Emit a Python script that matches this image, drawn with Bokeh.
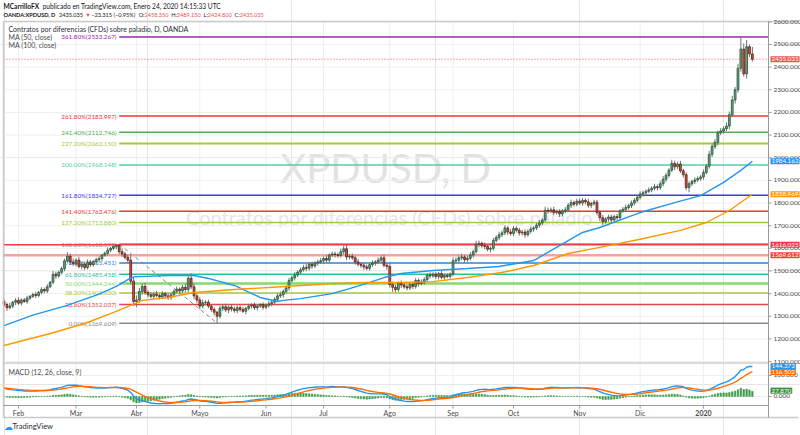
import numpy as np
import pandas as pd
from bokeh.plotting import figure
from bokeh.models import Range1d, Label, ColumnDataSource
from bokeh.core.properties import value
from bokeh.embed import file_html
from bokeh.resources import INLINE

# ---------------- data ----------------
closes = [
    1352, 1338, 1345, 1362, 1370, 1358, 1372, 1365, 1380, 1388,
    1396, 1392, 1405, 1418, 1412, 1430, 1450, 1486, 1478, 1494,
    1510, 1545, 1565, 1540, 1532, 1548, 1520, 1530, 1515, 1538,
    1528, 1542, 1550, 1555, 1570, 1578, 1592, 1600, 1608, 1612,
    1585, 1575, 1560, 1548, 1455, 1365, 1372, 1410, 1432, 1405,
    1395, 1388, 1398, 1392, 1385, 1400, 1390, 1382, 1395, 1410,
    1420, 1412, 1428, 1418, 1468, 1430, 1390, 1372, 1345, 1360,
    1362, 1345, 1330, 1318, 1300, 1335, 1342, 1328, 1340, 1332,
    1325, 1338, 1330, 1322, 1335, 1345, 1350, 1338, 1345, 1352,
    1340, 1348, 1355, 1362, 1375, 1390, 1395, 1410, 1425, 1458,
    1470, 1482, 1495, 1505, 1515, 1512, 1530, 1522, 1535, 1540,
    1545, 1555, 1548, 1570, 1575, 1572, 1568, 1585, 1598, 1562,
    1565, 1558, 1540, 1530, 1525, 1518, 1512, 1528, 1535, 1540,
    1548, 1558, 1525, 1520, 1440, 1428, 1418, 1445, 1438, 1430,
    1425, 1440, 1432, 1458, 1445, 1450, 1462, 1482, 1478, 1485,
    1475, 1488, 1472, 1480, 1476, 1486, 1545, 1548, 1558, 1562,
    1550, 1556, 1570, 1585, 1618, 1622, 1612, 1608, 1596, 1600,
    1635, 1648, 1660, 1668, 1690, 1672, 1665, 1688, 1680, 1668,
    1672, 1660, 1675, 1685, 1690, 1702, 1712, 1725, 1768, 1765,
    1770, 1758, 1762, 1752, 1765, 1770, 1790, 1802, 1795, 1808,
    1800, 1812, 1805, 1790, 1798, 1804, 1758, 1735, 1718, 1730,
    1738, 1725, 1740, 1735, 1765, 1772, 1780, 1788, 1800, 1812,
    1825, 1840, 1845, 1852, 1858, 1865, 1872, 1868, 1885, 1905,
    1922, 1945, 1975, 1960, 1972, 1942, 1925, 1868, 1885, 1895,
    1902, 1908, 1915, 1935, 1962, 2015, 2050, 2068, 2110, 2118,
    2128, 2140, 2190, 2255, 2300, 2395, 2480, 2370, 2490, 2458.35,
    2435.035,
]
first_open = 1365.0
wick_up = [
    12, 8, 15, 6, 10, 14, 7, 9, 11, 6,
    8, 13, 7, 10, 9, 12, 6, 14, 11, 8,
    10, 9, 18, 12, 15, 8, 14, 10, 9, 13,
    11, 7, 9, 10, 6, 8, 12, 7, 9, 5,
    6.573, 14, 10, 12, 25, 18, 20, 15, 12, 16,
    10, 12, 8, 14, 9, 11, 7, 13, 10, 9,
    12, 8, 10, 14, 9, 22, 15, 10, 12, 14,
    9, 11, 8, 10, 6, 12, 9, 14, 7, 10,
    11, 8, 9, 12, 7, 10, 8, 11, 9, 6,
    10, 8, 12, 7, 9, 11, 14, 8, 10, 12,
    9, 13, 8, 10, 12, 15, 9, 11, 8, 10,
    12, 9, 14, 8, 11, 10, 9, 13, 15, 18,
    10, 12, 9, 14, 8, 11, 10, 9, 12, 8,
    11, 10, 14, 9, 16, 12, 10, 8, 13, 9,
    10, 12, 8, 11, 9, 13, 10, 8, 12, 9,
    10, 8, 12, 9, 11, 7, 15, 12, 10, 14,
    9, 11, 13, 10, 15, 12, 9, 14, 10, 8,
    11, 9, 13, 10, 12, 8, 14, 10, 9, 11,
    10, 12, 9, 11, 8, 10, 13, 9, 16, 12,
    10, 14, 9, 11, 8, 12, 10, 13, 9, 11,
    12, 10, 9, 14, 8, 11, 10, 9, 12, 8,
    10, 11, 9, 12, 8, 10, 13, 9, 11, 10,
    9, 12, 10, 8, 11, 9, 13, 10, 12, 14,
    11, 9, 16, 12, 10, 14, 9, 11, 10, 8,
    12, 10, 9, 13, 11, 15, 12, 14, 10, 13,
    11, 16, 14, 18, 12, 20, 50, 25, 30, 10,
    30.8,
]
wick_dn = [
    10, 14, 7, 9, 12, 8, 11, 6, 10, 9,
    7, 12, 9, 8, 11, 10, 6, 9, 13, 8,
    9, 11, 8, 14, 10, 12, 9, 13, 11, 8,
    10, 9, 12, 8, 11, 7, 10, 9, 8, 12,
    10, 12, 9, 11, 14, 20, 25, 12, 15, 10,
    12, 9, 14, 10, 11, 8, 13, 10, 9, 12,
    10, 14, 9, 11, 12, 10, 16, 12, 14, 10,
    12, 9, 11, 14, 30.391, 10, 12, 9, 14, 11,
    9, 12, 10, 8, 13, 9, 11, 10, 12, 8,
    11, 9, 10, 12, 8, 11, 9, 13, 10, 12,
    10, 12, 9, 11, 8, 13, 10, 12, 9, 11,
    9, 11, 10, 12, 8, 13, 10, 9, 12, 14,
    11, 9, 13, 10, 12, 14, 9, 11, 10, 12,
    10, 12, 9, 15, 14, 20, 12, 10, 13, 9,
    11, 9, 12, 10, 14, 9, 11, 10, 12, 8,
    10, 12, 9, 11, 8, 10, 9, 12, 10, 11,
    12, 9, 10, 11, 8, 13, 10, 12, 9, 14,
    10, 9, 12, 11, 10, 13, 9, 11, 10, 12,
    11, 13, 9, 10, 12, 9, 11, 10, 8, 12,
    10, 12, 9, 14, 11, 10, 9, 12, 11, 10,
    9, 12, 10, 11, 13, 10, 12, 14, 16, 10,
    12, 10, 9, 11, 10, 8, 12, 9, 10, 11,
    10, 9, 11, 12, 8, 10, 9, 12, 10, 11,
    12, 10, 9, 14, 11, 10, 13, 12, 20, 10,
    11, 9, 10, 12, 8, 10, 12, 11, 14, 10,
    12, 10, 14, 11, 16, 13, 15, 12, 20, 14,
    10.235,
]

ma50_idx = [0, 10, 22, 33, 39, 43, 45, 57, 66, 71, 80, 89, 95, 97, 103, 114, 120,
            126, 132, 138, 149, 161, 172, 184, 190, 196, 201, 207, 221, 233, 242,
            250, 256, 260]
ma50_val = [1259, 1305, 1348, 1398, 1432, 1462, 1474, 1480, 1480, 1467, 1436, 1383,
            1365, 1370, 1378, 1400, 1422, 1445, 1471, 1489, 1502, 1511, 1520, 1546,
            1590, 1634, 1670, 1692, 1758, 1802, 1833, 1891, 1944, 1984.162]
ma100_idx = [0, 16, 28, 37, 44, 48, 57, 66, 80, 92, 103, 115, 126, 138, 149, 161,
             173, 184, 196, 207, 221, 235, 244, 252, 260]
ma100_val = [1171, 1224, 1268, 1312, 1348, 1370, 1383, 1405, 1418, 1427, 1436, 1445,
             1449, 1449, 1453, 1471, 1493, 1524, 1577, 1604, 1640, 1679, 1714, 1767,
             1838.969]

fib_levels = ["361.80%", "261.80%", "241.40%", "227.20%", "200.00%", "161.80%",
              "141.40%", "127.20%", "100.00%", "78.60%", "61.80%", "50.00%",
              "38.20%", "23.60%", "0.00%"]
fib_prices = [2533.267, 2183.997, 2112.746, 2063.150, 1968.148, 1834.727, 1763.476,
              1713.880, 1618.573, 1535.451, 1485.458, 1444.244, 1403.030, 1352.037,
              1269.609]
fib_colors = ["#9c27b0", "#e53935", "#4caf50", "#a5cc3f", "#4fd1a5", "#3d3ddd",
              "#e53935", "#9ccc40", "#8b8b8b", "#2f80d1", "#2bc194", "#86d96e",
              "#a5c93c", "#e04848", "#8b8b8b"]
fib_widths = [1.5, 1.5, 1.5, 2, 1.5, 1.5, 1.5, 1.5, 1.5, 1.5, 1.5, 2.5, 1.5, 1.5, 1.5]
fib_anchor_idx = [40, 74]
fib_anchor_price = [1618.573, 1269.609]

hline_prices = [1616.025, 1569.612]
hline_colors = ["#ef3b3b", "#f7a1a1"]
hline_widths = [1.5, 2.5]

month_labels = ["Feb", "Mar", "Abr", "Mayo", "Jun", "Jul", "Ago", "Sep", "Oct",
                "Nov", "Dic", "2020"]
month_periods = ["2019-02", "2019-03", "2019-04", "2019-05", "2019-06", "2019-07",
                 "2019-08", "2019-09", "2019-10", "2019-11", "2019-12", "2020-01"]
price_ticks = list(range(1100, 2700, 100))
macd_ticks = [0, 100]

last_o, last_h, last_l, last_c = 2458.350, 2489.150, 2424.800, 2435.035
last_chg, last_pct = -23.315, -0.95
macd_init, signal_init = 43.0, 40.0
macd_readout = [144.372, 116.502, 27.870]   # MACD, signal, histogram values shown on the scale

# ---------------- derived ----------------
n = len(closes)
dates = pd.bdate_range(end="2020-01-24", periods=n)
dper = dates.to_period("M")
month_idx = [int(np.argmax(dper == pd.Period(m, "M"))) for m in month_periods]

idx = np.arange(n)
c = np.array(closes, float)
o = np.r_[first_open, c[:-1]]
hi = np.maximum(o, c) + np.array(wick_up, float)
lo = np.minimum(o, c) - np.array(wick_dn, float)
up = c >= o


def ema(arr, span, init):
    a = 2.0 / (span + 1)
    out = np.empty_like(arr)
    prev = init
    for i, v in enumerate(arr):
        prev = prev + a * (v - prev)
        out[i] = prev
    return out


e12 = ema(c, 12, c[0])
e26 = ema(c, 26, c[0] - macd_init)
macd = e12 - e26
signal = ema(macd, 9, signal_init)
hist = macd - signal

# ---------------- geometry (pixel layout of the panes) ----------------
W, H = 800, 435
FL, FR, FT, FB = 3, 768, 21, 405        # chart panes (price + MACD)
XP = (-0.2, 265.6)                      # bar index at pane left / right edge
YP = (906.0, 2601.5)                    # price at pane bottom / top edge
MP = (-42.9, 1786.0)                    # MACD value at pane bottom / top edge
kx = (XP[1] - XP[0]) / (FR - FL)
ky = (YP[1] - YP[0]) / (FB - FT)
km = (MP[1] - MP[0]) / (FB - FT)


def sx(px):
    return XP[0] + (px - FL) * kx


def sy(py):
    return YP[1] - (py - FT) * ky


def smy(py):
    return MP[1] - (py - FT) * km


FONT = "Lato"
AX = "#9a9a9a"
GRID = "#efefef"
TXT = "#4a4a4a"

p = figure(width=W, height=H, x_range=Range1d(sx(0), sx(W)), y_range=Range1d(sy(H), sy(0)),
           x_axis_location=None, y_axis_location=None, output_backend="svg",
           toolbar_location=None, title=None, min_border=0,
           background_fill_color="white", border_fill_color="white")
p.outline_line_color = None
p.extra_y_ranges = {"macd": Range1d(smy(H), smy(0))}

# watermark
p.add_layout(Label(x=sx(385), y=sy(167), text="XPDUSD, D", text_align="center",
                   text_baseline="middle", text_font=FONT, text_font_size="40px",
                   text_color="#e2e2e2", level="underlay"))
p.add_layout(Label(x=sx(389), y=sy(216), text="Contratos por diferencias (CFDs) sobre paladio",
                   text_align="center", text_baseline="middle", text_font=FONT,
                   text_font_size="20px", text_color="#e6e6e6", level="underlay"))

# grid
p.segment(x0=month_idx, y0=sy(FB), x1=month_idx, y1=sy(FT), line_color=GRID, line_width=1)
p.segment(x0=sx(FL), y0=price_ticks, x1=sx(FR), y1=price_ticks, line_color=GRID, line_width=1)
p.segment(x0=sx(FL), y0=macd_ticks, x1=sx(FR), y1=macd_ticks, line_color=GRID, line_width=1,
          y_range_name="macd")

# fib retracement
fsrc = ColumnDataSource(dict(y=fib_prices, color=fib_colors, w=fib_widths,
                             txt=[f"{l}({v:.3f})" for l, v in zip(fib_levels, fib_prices)]))
p.segment(x0=fib_anchor_idx[0], y0="y", x1=sx(FR), y1="y", line_color="color",
          line_width="w", source=fsrc)
p.text(x=sx(116), y="y", text="txt", text_color="color", text_align="right",
       text_baseline="middle", text_font=value(FONT), text_font_size="6.3px", source=fsrc)
p.line(fib_anchor_idx, fib_anchor_price, line_color="#8a8a8a", line_dash="4 3", line_width=1)

# horizontal lines
p.segment(x0=sx(FL), y0=hline_prices, x1=sx(FR), y1=hline_prices, line_color=hline_colors,
          line_width=hline_widths)

# candles
csrc = ColumnDataSource(dict(x=idx, hi=hi, lo=lo, top=np.maximum(o, c), bot=np.minimum(o, c),
                             fill=np.where(up, "#6ba583", "#d75442"),
                             line=np.where(up, "#225437", "#5b1a13")))
p.segment("x", "lo", "x", "hi", source=csrc, line_color="#737375", line_width=1)
p.vbar(x="x", top="top", bottom="bot", width=0.64, fill_color="fill", line_color="line",
       line_width=0.8, source=csrc)

# moving averages
p.line(ma50_idx, ma50_val, line_color="#2196f3", line_width=1.4)
p.line(ma100_idx, ma100_val, line_color="#ff9800", line_width=1.4)

# last price line
p.segment(x0=sx(FL), y0=last_c, x1=sx(FR), y1=last_c, line_color="#ef5350",
          line_dash="1 2", line_width=1)

# MACD pane
p.segment(x0=sx(FL), y0=sy(362.5), x1=sx(FR), y1=sy(362.5), line_color="#cfcfcf", line_width=1.5)
p.vbar(x=idx, top=hist, bottom=0, width=0.55, fill_color="#3d9d47", line_color="#3d9d47",
       line_width=0.5, y_range_name="macd")
p.line(idx, macd, line_color="#2196f3", line_width=1.4, y_range_name="macd")
p.line(idx, signal, line_color="#ff6d00", line_width=1.4, y_range_name="macd")

# frame / axes
p.segment(x0=[sx(FL), sx(FL), sx(FL)], y0=[sy(FT), sy(417), sy(FT)],
          x1=[sx(798), sx(798), sx(FL)], y1=[sy(FT), sy(417), sy(417)],
          line_color="#c9c9c9", line_width=1.5)
p.segment(x0=sx(FR), y0=sy(FT), x1=sx(FR), y1=sy(417), line_color=AX, line_width=1)
p.segment(x0=sx(FL), y0=sy(FB), x1=sx(FR), y1=sy(FB), line_color=AX, line_width=1)
# price scale ticks + labels
p.segment(x0=sx(FR), y0=price_ticks, x1=sx(FR + 3), y1=price_ticks, line_color=AX)
p.text(x=sx(FR + 5), y=price_ticks, text=[f"{t:.3f}" for t in price_ticks],
       text_font=value(FONT), text_font_size="6.5px", text_color=TXT, text_baseline="middle")
p.segment(x0=sx(FR), y0=macd_ticks, x1=sx(FR + 3), y1=macd_ticks, line_color=AX,
          y_range_name="macd")
p.text(x=sx(FR + 5), y=macd_ticks, text=[f"{t:.3f}" for t in macd_ticks],
       text_font=value(FONT), text_font_size="6.5px", text_color=TXT, text_baseline="middle",
       y_range_name="macd")
# time scale ticks + labels
p.segment(x0=month_idx, y0=sy(FB), x1=month_idx, y1=sy(FB + 3), line_color=AX)
p.text(x=month_idx, y=sy(412), text=month_labels, text_font=value(FONT),
       text_font_size="7px", text_color=TXT, text_align="center", text_baseline="middle",
       text_font_style=["bold" if l.isdigit() else "normal" for l in month_labels])


def lab(px, py, text, size="7px", color=TXT, style="normal", align="left", bg=None,
        yname="default"):
    kw = dict(x=sx(px), y=(sy(py) if yname == "default" else smy(py)), text=text,
              text_font=FONT, text_font_size=size, text_color=color, text_font_style=style,
              text_align=align, text_baseline="middle")
    if yname != "default":
        kw["y_range_name"] = yname
    if bg is not None:
        kw.update(background_fill_color=bg, padding=1)
    p.add_layout(Label(**kw))


# legends
lab(8, 28, "Contratos por diferencias (CFDs) sobre paladio, D, OANDA", color="#2a2e39")
lab(8, 36, "MA (50, close)")
lab(8, 44, "MA (100, close)")
lab(8, 371, "MACD (12, 26, close, 9)")

# approximate Lato advance widths (em) used to lay out the header runs
WID = {"A": .685, "D": .74, "N": .75, "O": .8, "P": .6, "S": .53, "U": .72, "X": .665,
       "H": .75, "L": .52, "C": .7, "M": .94, "F": .57, ".": .23, ",": .23, ":": .23,
       " ": .193, "(": .3, ")": .3, "%": .8, "−": .58, "▼": .77}


def tw(s, size, bold=False):
    w = 0.0
    for ch in s:
        if ch in WID:
            w += WID[ch]
        elif ch.isdigit():
            w += .58
        elif ch in "ilrt":
            w += .33
        else:
            w += .52
    return w * size * (1.03 if bold else 1.0)


DK = "#131722"
RED = "#ef5350"
# header line 1
fs1 = 6.6
lab(3, 5, "MCarrilloFX", size=f"{fs1}px", color=DK, style="bold")
lab(3 + tw("MCarrilloFX ", fs1, True), 5,
    "publicado en TradingView.com, Enero 24, 2020 14:15:33 UTC", size=f"{fs1}px", color=DK)
# header line 2
seg = [("OANDA:XPDUSD, D", DK, "bold", .6), (f"{last_c:.3f}", DK, "normal", .4),
       ("▼", RED, "normal", .3),
       (f"−{abs(last_chg):.3f} (−{abs(last_pct):.2f}%)", DK, "normal", .6),
       ("O:", DK, "normal", 0), (f"{last_o:.3f}", RED, "normal", .5),
       ("H:", DK, "normal", 0), (f"{last_h:.3f}", RED, "normal", .5),
       ("L:", DK, "normal", 0), (f"{last_l:.3f}", RED, "normal", .5),
       ("C:", DK, "normal", 0), (f"{last_c:.3f}", RED, "normal", 0)]
fs2 = 5.6
xpos = 3.0
for t, col, st, g in seg:
    lab(xpos, 14, t, size=f"{fs2}px", color=col, style=st)
    xpos += tw(t, fs2, st == "bold") + g * fs2


def price_py(v):
    return FT + (YP[1] - v) / ky


def macd_py(v):
    return FT + (MP[1] - v) / km


# price-scale badges
for val, col in [(last_c, "#ef5350"), (ma50_val[-1], "#2196f3"), (ma100_val[-1], "#ff9800"),
                 (hline_prices[0], "#f23645"), (hline_prices[1], "#f44336")]:
    lab(770, price_py(val), f"{val:.3f}", size="6.3px", color="white", bg=col)
for val, col in zip(macd_readout, ["#2196f3", "#ff6d00", "#388e3c"]):
    lab(770, macd_py(val), f"{val:.3f}", size="6.3px", color="white", bg=col)

# footer
lab(3, 426, "☁", size="9px", color="#2196f3")
lab(12, 426, "TradingView", size="7.5px", color="#2a2e39")

open("out.html", "w").write(file_html(p, INLINE))
